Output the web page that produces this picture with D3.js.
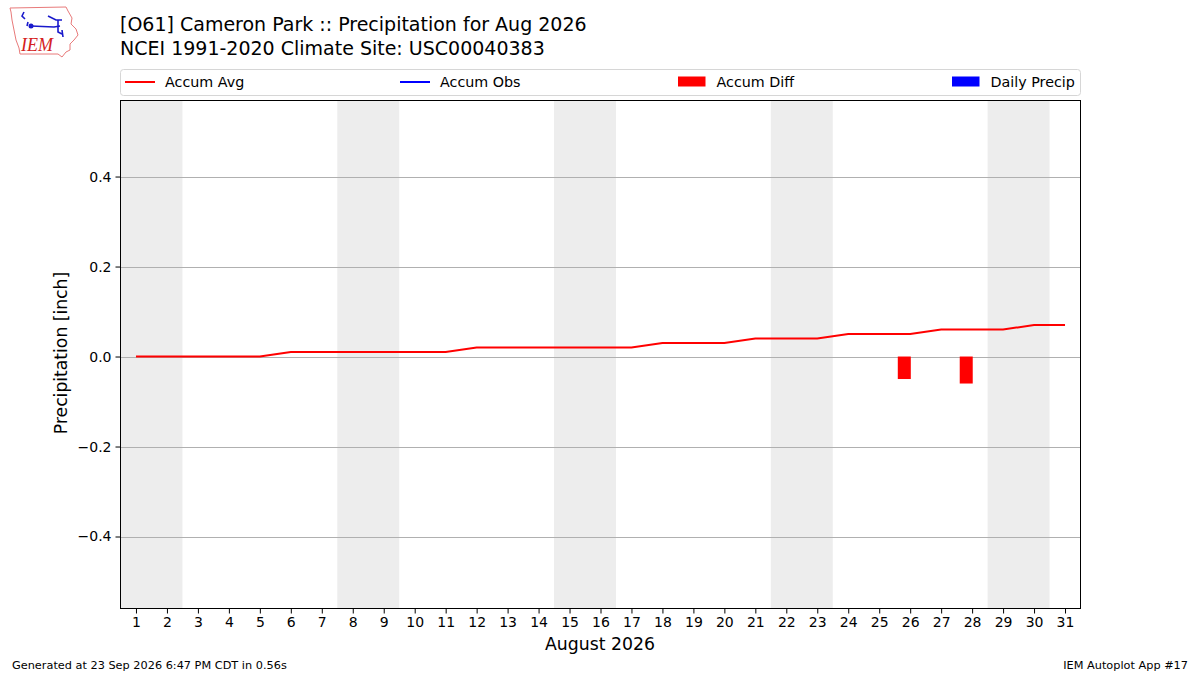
<!DOCTYPE html>
<html>
<head>
<meta charset="utf-8">
<script src="https://cdn.jsdelivr.net/npm/d3@7"></script>
<style>
  body { margin: 0; background: #fff; }
  svg { font-family: "DejaVu Sans", sans-serif; }
</style>
</head>
<body>
<svg id="chart" width="1200" height="675"></svg>
<script>
// data
var days = d3.range(1, 32)
var accumAvg = [0, 0, 0, 0, 0, 0.01, 0.01, 0.01, 0.01, 0.01, 0.01, 0.02, 0.02, 0.02, 0.02, 0.02, 0.02,
                0.03, 0.03, 0.03, 0.04, 0.04, 0.04, 0.05, 0.05, 0.05, 0.06, 0.06, 0.06, 0.07, 0.07]
var diffDays = [26, 28]
var accumDiff = [-0.05, -0.06]
var weekends = [[1, 2], [8, 9], [15, 16], [22, 23], [29, 30]]
var yTicks = [-0.4, -0.2, 0, 0.2, 0.4]
var legendLabels = ["Accum Avg", "Accum Obs", "Accum Diff", "Daily Precip"]
var legendColors = ["red", "blue", "red", "blue"]
var legendKinds = ["line", "line", "rect", "rect"]

var svg = d3.select("#chart")
var plot = { left: 120.5, right: 1080.5, top: 100.5, bottom: 608.5 }

var xScale = d3.scaleLinear().domain([0.5, 31.5]).range([plot.left, plot.right])
var yScale = d3.scaleLinear().domain([-0.56, 0.569]).range([plot.bottom, plot.top])

// weekend shading
svg.append("g")
  .selectAll("rect")
  .data(weekends)
  .enter()
  .append("rect")
  .attr("x", function(w) { return Math.max(plot.left, xScale(w[0] - 0.5)) })
  .attr("width", function(w) { return xScale(w[1] + 0.5) - Math.max(plot.left, xScale(w[0] - 0.5)) })
  .attr("y", plot.top)
  .attr("height", plot.bottom - plot.top)
  .attr("fill", "#ededed")

// grid
svg.append("g")
  .selectAll("line")
  .data(yTicks)
  .enter()
  .append("line")
  .attr("x1", plot.left).attr("x2", plot.right)
  .attr("y1", function(d) { return Math.round(yScale(d)) + 0.5 })
  .attr("y2", function(d) { return Math.round(yScale(d)) + 0.5 })
  .attr("stroke", "#b0b0b0")
  .attr("stroke-width", 1)

// diff bars (drawn a bit left of the day, as in the original)
svg.append("g")
  .selectAll("rect")
  .data(accumDiff)
  .enter()
  .append("rect")
  .attr("x", function(d, i) { return xScale(diffDays[i] - 0.4) })
  .attr("width", xScale(1.42) - xScale(1))
  .attr("y", function(d) { return yScale(Math.max(0, d)) })
  .attr("height", function(d) { return Math.abs(yScale(d) - yScale(0)) })
  .attr("fill", "red")

// accumulated average line
var line = d3.line()
  .x(function(d, i) { return xScale(days[i]) })
  .y(function(d) { return yScale(d) })

svg.append("path")
  .datum(accumAvg)
  .attr("d", line)
  .attr("fill", "none")
  .attr("stroke", "red")
  .attr("stroke-width", 2)

// axes
var xAxis = d3.axisBottom(xScale).tickValues(days).tickFormat(d3.format("d")).tickSize(5).tickPadding(4)
var yAxis = d3.axisLeft(yScale).tickValues(yTicks)
  .tickFormat(function(d) { return d3.format(".1f")(d).replace("-", "\u2212") })
  .tickSize(5).tickPadding(4)

var gx = svg.append("g").attr("transform", "translate(0," + plot.bottom + ")").call(xAxis)
var gy = svg.append("g").attr("transform", "translate(" + plot.left + ",0)").call(yAxis)
;[gx, gy].forEach(function(g) {
  g.select(".domain").remove()
  g.selectAll("text").attr("font-size", 14).attr("fill", "#000").attr("font-family", "DejaVu Sans")
  g.selectAll("line").attr("stroke", "#000")
})

svg.append("rect")
  .attr("x", plot.left).attr("y", plot.top)
  .attr("width", plot.right - plot.left).attr("height", plot.bottom - plot.top)
  .attr("fill", "none").attr("stroke", "#000").attr("stroke-width", 1)

// axis labels
svg.append("text").attr("x", 600).attr("y", 650).attr("text-anchor", "middle")
  .attr("font-size", 17.3).text("August 2026")
svg.append("text").attr("transform", "translate(67,353) rotate(-90)").attr("text-anchor", "middle")
  .attr("font-size", 17.2).text("Precipitation [inch]")

// titles
svg.append("text").attr("x", 120).attr("y", 31).attr("font-size", 19).text("[O61] Cameron Park :: Precipitation for Aug 2026")
svg.append("text").attr("x", 120).attr("y", 55).attr("font-size", 19).text("NCEI 1991-2020 Climate Site: USC00040383")

// legend
svg.append("rect").attr("x", 120.5).attr("y", 69.5).attr("width", 960).attr("height", 26)
  .attr("rx", 3).attr("fill", "#fff").attr("stroke", "#d6d6d6")
var legendX = [125, 400, 678, 952]
var lg = svg.append("g").selectAll("g")
  .data(legendLabels)
  .enter()
  .append("g")
  .attr("transform", function(d, i) { return "translate(" + legendX[i] + ",82)" })
lg.each(function(d, i) {
  var g = d3.select(this)
  if (legendKinds[i] == "line") {
    g.append("line").attr("x1", 0).attr("x2", 30).attr("y1", 0).attr("y2", 0)
      .attr("stroke", legendColors[i]).attr("stroke-width", 2)
  } else {
    g.append("rect").attr("x", 0).attr("y", -5.5).attr("width", 27.5).attr("height", 10)
      .attr("fill", legendColors[i])
  }
  g.append("text").attr("x", legendKinds[i] == "line" ? 40 : 38.5).attr("y", 5)
    .attr("font-size", 14.3).text(d)
})

// footer
svg.append("text").attr("x", 12).attr("y", 669).attr("font-size", 11.3).text("Generated at 23 Sep 2026 6:47 PM CDT in 0.56s")
svg.append("text").attr("x", 1188).attr("y", 669).attr("font-size", 11.3).attr("text-anchor", "end").text("IEM Autoplot App #17")

// rough IEM logo
var logo = svg.append("g")
logo.append("path")
  .attr("d", "M10,8 L66,7 L68,11 L72,18 L71,24 L76,29 L78,35 L74,40 L70,44 L70,50 L66,52 L62,57 L58,54 L20,54 L19,48 L16,40 L14,30 L12,20 L11,12 Z")
  .attr("fill", "#fff").attr("stroke", "#e87a7a").attr("stroke-width", 1)
logo.append("path")
  .attr("d", "M24,12 L22,16 L25,19 M28,22 L27,26 M31,26 L54,27 L60,26 M48,16 L56,20 L62,20 M58,20 L58,32 L62,34 M62,30 L63,37")
  .attr("fill", "none").attr("stroke", "#1a1acc").attr("stroke-width", 1.6)
logo.append("circle").attr("cx", 31).attr("cy", 26).attr("r", 2.5).attr("fill", "#1a1acc")
logo.append("text").attr("x", 21).attr("y", 51).attr("font-family", "Liberation Serif").attr("font-style", "italic")
  .attr("font-size", 18).attr("fill", "#d42020").text("IEM")
</script>
</body>
</html>
